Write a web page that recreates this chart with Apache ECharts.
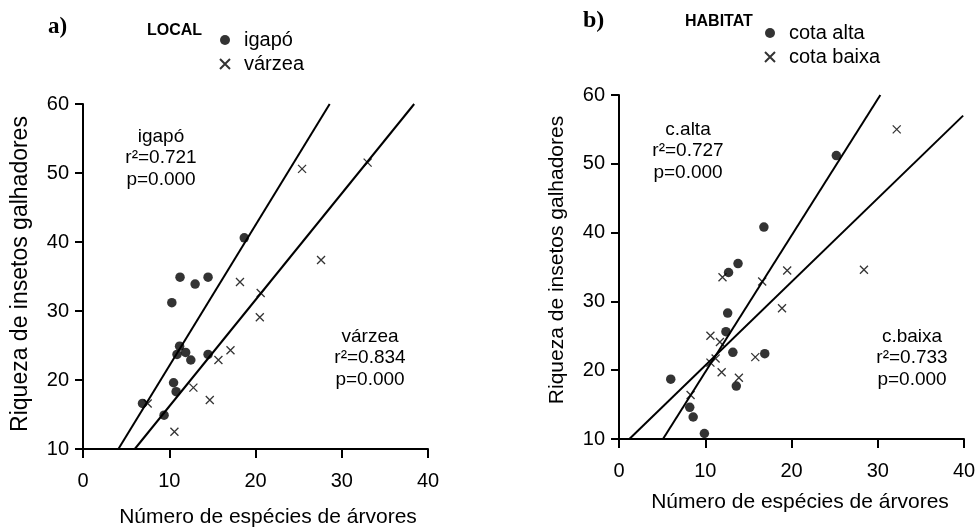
<!DOCTYPE html>
<html>
<head>
<meta charset="utf-8">
<script src="https://cdn.jsdelivr.net/npm/echarts@6/dist/echarts.min.js"></script>
<style>
html,body{margin:0;padding:0;background:#fff;}
#c{width:980px;height:530px;}
</style>
</head>
<body>
<div id="c"></div>
<script>
// ---- data ----
const xTicks = [0, 10, 20, 30, 40];
const yTicks = [10, 20, 30, 40, 50, 60];

const igapoX = [10.3, 11.25, 13.0, 14.5, 11.2, 10.9, 11.9, 12.5, 14.5, 10.5, 10.8, 6.9, 9.4, 18.7];
const igapoY = [31.2, 34.9, 33.9, 34.9, 24.9, 23.7, 24.0, 22.9, 23.7, 19.6, 18.3, 16.6, 14.9, 40.6];
const varzeaX = [25.4, 33.0, 27.6, 18.2, 20.6, 20.5, 17.1, 15.7, 12.8, 14.7, 10.6, 7.5];
const varzeaY = [50.6, 51.5, 37.4, 34.2, 32.6, 29.1, 24.3, 22.9, 18.9, 17.1, 12.5, 16.6];

const altaX = [12.7, 13.8, 12.6, 12.4, 13.2, 16.9, 13.6, 6.0, 8.2, 8.6, 9.9, 16.8, 25.2];
const altaY = [34.2, 35.5, 28.3, 25.6, 22.6, 22.4, 17.7, 18.7, 14.6, 13.2, 10.8, 40.8, 51.2];
const baixaX = [32.2, 28.4, 19.5, 16.6, 12.0, 18.9, 10.6, 11.7, 11.2, 10.6, 15.8, 11.9, 13.9, 8.3];
const baixaY = [55.0, 34.6, 34.5, 32.9, 33.5, 29.0, 25.0, 24.1, 21.7, 21.1, 21.9, 19.7, 18.9, 16.4];

// regression line endpoints [x, y]
const fitIgapoX = [4.1, 28.6],  fitIgapoY = [10, 60];
const fitVarzeaX = [6.0, 38.4], fitVarzeaY = [10, 60];
const fitAltaX = [5.1, 30.3],   fitAltaY = [10, 60];
const fitBaixaX = [1.2, 39.9],  fitBaixaY = [10, 57.0];

const statsA = ['igapó\nr²=0.721\np=0.000', 'várzea\nr²=0.834\np=0.000'];
const statsB = ['c.alta\nr²=0.727\np=0.000', 'c.baixa\nr²=0.733\np=0.000'];
const xTitle = 'Número de espécies de árvores';
const yTitle = 'Riqueza de insetos galhadores';

// ---- build ----
const zip = (a, b) => a.map((v, i) => [v, b[i]]);
const FONT = 'Liberation Sans, Arial, sans-serif';
const crossPath = 'path://M0,0L10,10M10,0L0,10';

function xAxis(gi) {
  return {
    type: 'value', gridIndex: gi, min: xTicks[0], max: xTicks[xTicks.length - 1], interval: 10,
    axisLine: { show: true, onZero: false, lineStyle: { color: '#000', width: 2 } },
    axisTick: { show: true, length: 9, lineStyle: { color: '#000', width: 2 } },
    axisLabel: { color: '#000', fontSize: 20, fontFamily: FONT, margin: 22 },
    splitLine: { show: false }
  };
}
function yAxis(gi) {
  return {
    type: 'value', gridIndex: gi, min: yTicks[0], max: yTicks[yTicks.length - 1], interval: 10,
    axisLine: { show: true, onZero: false, lineStyle: { color: '#000', width: 2 } },
    axisTick: { show: true, length: 8, lineStyle: { color: '#000', width: 2 } },
    axisLabel: { color: '#000', fontSize: 20, fontFamily: FONT, margin: 14 },
    splitLine: { show: false }
  };
}
function dots(name, xs, ys, gi) {
  return { name, type: 'scatter', xAxisIndex: gi, yAxisIndex: gi, data: zip(xs, ys),
    symbol: 'circle', symbolSize: 9.5, itemStyle: { color: '#000' }, z: 3, silent: true };
}
function crosses(name, xs, ys, gi) {
  return { name, type: 'scatter', xAxisIndex: gi, yAxisIndex: gi, data: zip(xs, ys),
    symbol: crossPath, symbolSize: 8,
    itemStyle: { color: 'transparent', borderColor: '#000', borderWidth: 1.3 }, z: 3, silent: true };
}
function fit(xs, ys, gi) {
  return { type: 'line', xAxisIndex: gi, yAxisIndex: gi, data: zip(xs, ys), symbol: 'none',
    lineStyle: { color: '#000', width: 2 }, z: 2, silent: true, clip: false };
}
function legend(names, left, top) {
  return { data: names, orient: 'vertical', left, top, itemWidth: 28, itemHeight: 10, itemGap: 4,
    selectedMode: false,
    textStyle: { color: '#000', fontSize: 20, fontFamily: FONT, lineHeight: 20 } };
}
const txt = (x, y, text, extra) => ({ type: 'text', x, y, silent: true,
  style: Object.assign({ text, fill: '#000', font: '19px ' + FONT, textAlign: 'center', textVerticalAlign: 'top', lineHeight: 21.5 }, extra || {}) });

const option = {
  animation: false,
  backgroundColor: '#fff',
  grid: [
    { left: 83, top: 104, width: 345, height: 345 },
    { left: 619, top: 95, width: 345, height: 344 }
  ],
  xAxis: [xAxis(0), xAxis(1)],
  yAxis: [yAxis(0), yAxis(1)],
  legend: [legend(['igapó', 'várzea'], 214, 25), legend(['cota alta', 'cota baixa'], 759, 18)],
  series: [
    fit(fitIgapoX, fitIgapoY, 0), fit(fitVarzeaX, fitVarzeaY, 0),
    dots('igapó', igapoX, igapoY, 0), crosses('várzea', varzeaX, varzeaY, 0),
    fit(fitAltaX, fitAltaY, 1), fit(fitBaixaX, fitBaixaY, 1),
    dots('cota alta', altaX, altaY, 1), crosses('cota baixa', baixaX, baixaY, 1)
  ],
  graphic: [
    txt(48, 27, 'a)', { font: 'bold 23px Liberation Serif, Times New Roman, serif', textAlign: 'left', textVerticalAlign: 'middle' }),
    txt(583, 21, 'b)', { font: 'bold 24px Liberation Serif, Times New Roman, serif', textAlign: 'left', textVerticalAlign: 'middle' }),
    txt(147, 31, 'LOCAL', { font: 'bold 16px ' + FONT, textAlign: 'left', textVerticalAlign: 'middle' }),
    txt(685, 22, 'HABITAT', { font: 'bold 16px ' + FONT, textAlign: 'left', textVerticalAlign: 'middle' }),
    txt(161, 126, statsA[0]),
    txt(370, 326, statsA[1]),
    txt(688, 119, statsB[0]),
    txt(912, 326, statsB[1]),
    txt(268, 517, xTitle, { font: '21px ' + FONT, textVerticalAlign: 'middle' }),
    txt(800, 502, xTitle, { font: '21px ' + FONT, textVerticalAlign: 'middle' }),
    { type: 'text', x: 21, y: 274, rotation: Math.PI / 2, silent: true,
      style: { text: yTitle, fill: '#000', font: '23px ' + FONT, textAlign: 'center', textVerticalAlign: 'middle' } },
    { type: 'text', x: 557, y: 260, rotation: Math.PI / 2, silent: true,
      style: { text: yTitle, fill: '#000', font: '21px ' + FONT, textAlign: 'center', textVerticalAlign: 'middle' } }
  ]
};
const chart = echarts.init(document.getElementById('c'), null, { renderer: 'canvas' });
chart.setOption(option);
</script>
</body>
</html>
